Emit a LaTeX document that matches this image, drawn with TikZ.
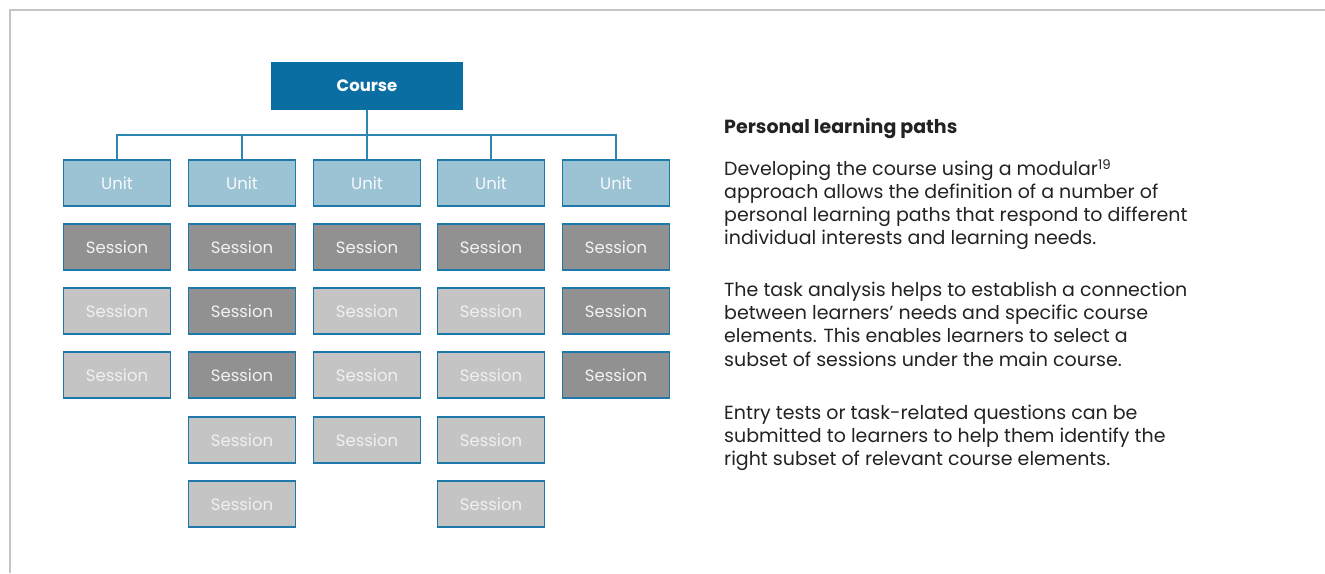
\documentclass[tikz,border=0pt]{standalone}
\usepackage{fontspec}
\setmainfont{Poppins}
\definecolor{coursecol}{HTML}{0B6EA3}
\definecolor{unitcol}{HTML}{9BC3D4}
\definecolor{darkcol}{HTML}{919191}
\definecolor{lightcol}{HTML}{C3C4C3}
\definecolor{edgecol}{HTML}{1F78AA}
\definecolor{linkcol}{HTML}{2C87B5}
\definecolor{framecol}{HTML}{C4C4C4}
\definecolor{bodycol}{HTML}{222222}
\tikzset{
  frameline/.style={draw=framecol, line width=2pt},
  coursebox/.style={fill=coursecol, minimum width=192, minimum height=48, inner sep=0pt,
    text=white, font=\fontsize{16.5}{20}\selectfont\bfseries},
  cell/.style={draw=edgecol, line width=1.5pt, minimum width=107, minimum height=46, inner sep=0pt,
    font=\fontsize{16.5}{20}\selectfont},
  unitbox/.style={cell, fill=unitcol, text=white!92!unitcol},
  darkbox/.style={cell, fill=darkcol, text=white!88!darkcol},
  lightbox/.style={cell, fill=lightcol, text=white!75!lightcol},
  link/.style={draw=linkcol, line width=1.5pt},
  txt/.style={anchor=base west, inner sep=0pt, text=bodycol, font=\fontsize{19}{23}\selectfont},
  head/.style={txt, font=\fontsize{19}{23}\selectfont\bfseries}
}
\begin{document}
\begin{tikzpicture}[x=1pt,y=-1pt]
\useasboundingbox (0,0) rectangle (1325,573);
\draw[frameline] (10,573) -- (10,10) -- (1325,10);

\node[coursebox] (course) at (367,86) {Course};

% units
\node[unitbox] (u1) at (117,183) {Unit};
\node[unitbox] (u2) at (242,183) {Unit};
\node[unitbox] (u3) at (367,183) {Unit};
\node[unitbox] (u4) at (491,183) {Unit};
\node[unitbox] (u5) at (616,183) {Unit};

% column 1
\node[darkbox]  (a1) at (117,247) {Session};
\node[lightbox] (a2) at (117,311) {Session};
\node[lightbox] (a3) at (117,375) {Session};
% column 2
\node[darkbox]  (b1) at (242,247) {Session};
\node[darkbox]  (b2) at (242,311) {Session};
\node[darkbox]  (b3) at (242,375) {Session};
\node[lightbox] (b4) at (242,440) {Session};
\node[lightbox] (b5) at (242,504) {Session};
% column 3
\node[darkbox]  (c1) at (367,247) {Session};
\node[lightbox] (c2) at (367,311) {Session};
\node[lightbox] (c3) at (367,375) {Session};
\node[lightbox] (c4) at (367,440) {Session};
% column 4
\node[darkbox]  (d1) at (491,247) {Session};
\node[lightbox] (d2) at (491,311) {Session};
\node[lightbox] (d3) at (491,375) {Session};
\node[lightbox] (d4) at (491,440) {Session};
\node[lightbox] (d5) at (491,504) {Session};
% column 5
\node[darkbox]  (e1) at (616,247) {Session};
\node[darkbox]  (e2) at (616,311) {Session};
\node[darkbox]  (e3) at (616,375) {Session};

% connectors
\coordinate (bus) at (367,135);
\draw[link] (course.south) -- (u3.north);
\draw[link] (u1.north) -- (u1.north |- bus) -| (u5.north);
\draw[link] (u2.north) -- (u2.north |- bus);
\draw[link] (u4.north) -- (u4.north |- bus);

% text
\node[head] (h) at (724,133) {Personal learning paths};
\node[txt] (p1a) at (724,175.5) {Developing the course using a modular\textsuperscript{19}};
\node[txt] (p1b) at (724,198.5) {approach allows the definition of a number of};
\node[txt] (p1c) at (724,221.5) {personal learning paths that respond to different};
\node[txt] (p1d) at (724,244.5) {individual interests and learning needs.};
\node[txt] (p2a) at (724,296) {The task analysis helps to establish a connection};
\node[txt] (p2b) at (724,319.3) {between learners’ needs and specific course};
\node[txt] (p2c) at (724,342.6) {elements. This enables learners to select a};
\node[txt] (p2d) at (724,366) {subset of sessions under the main course.};
\node[txt] (p3a) at (724,419) {Entry tests or task-related questions can be};
\node[txt] (p3b) at (724,442.3) {submitted to learners to help them identify the};
\node[txt] (p3c) at (724,465.6) {right subset of relevant course elements.};
\end{tikzpicture}
\end{document}
